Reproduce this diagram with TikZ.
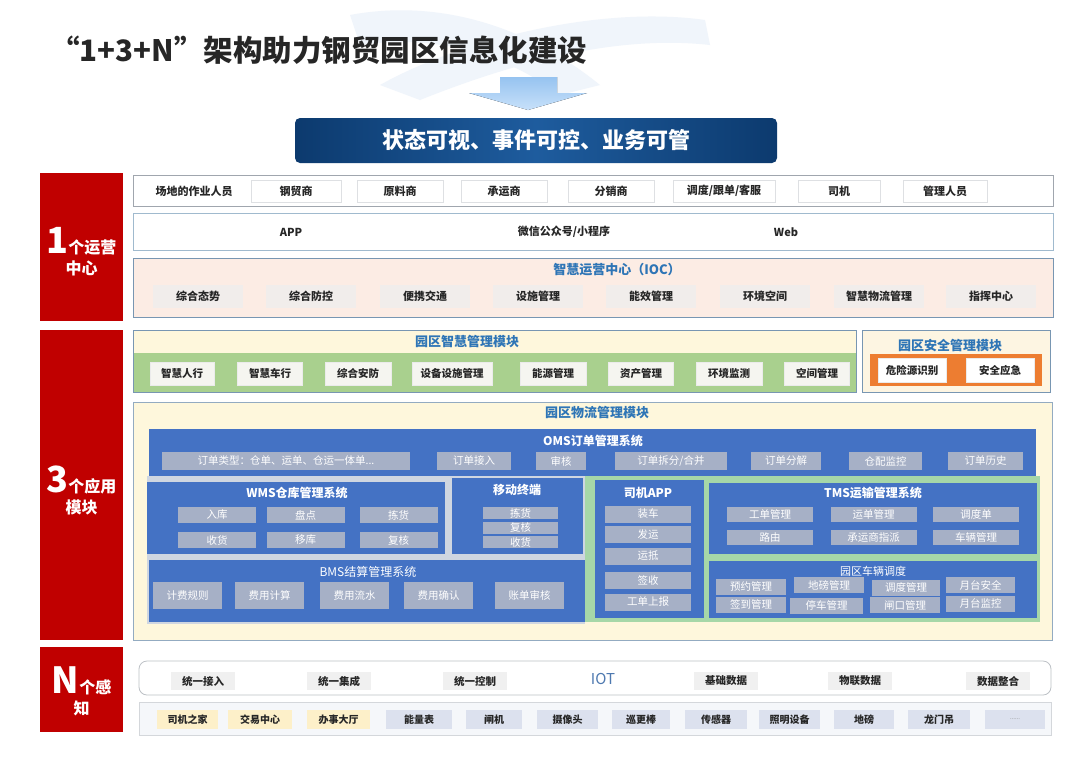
\documentclass[tikz,border=0pt]{standalone}
\usepackage{fontspec}
\setmainfont{Noto Sans CJK SC}
\usepackage{xcolor}
\definecolor{RedC}{RGB}{192,0,0}
\definecolor{TextK}{RGB}{38,38,38}
\definecolor{TitleB}{RGB}{46,117,182}
\definecolor{BanD}{RGB}{12,58,110}
\definecolor{BanM}{RGB}{30,92,158}
\definecolor{ArrA}{RGB}{150,195,240}
\definecolor{ArrB}{RGB}{200,225,250}
\definecolor{BgB}{RGB}{240,245,251}
\definecolor{LineG}{RGB}{160,166,174}
\definecolor{LineB}{RGB}{160,186,206}
\definecolor{LineS}{RGB}{120,150,178}
\definecolor{PeachP}{RGB}{252,236,228}
\definecolor{PeachG}{RGB}{241,237,235}
\definecolor{PaleY}{RGB}{254,247,220}
\definecolor{PaleY2}{RGB}{253,245,226}
\definecolor{SmartG}{RGB}{169,208,142}
\definecolor{OffW}{RGB}{245,245,240}
\definecolor{OrgC}{RGB}{237,125,49}
\definecolor{BlueM}{RGB}{68,114,196}
\definecolor{ItemG}{RGB}{166,176,198}
\definecolor{GrayP}{RGB}{207,214,225}
\definecolor{GreenP}{RGB}{166,215,168}
\definecolor{IotG}{RGB}{240,240,240}
\definecolor{IotB}{RGB}{78,121,176}
\definecolor{DevP}{RGB}{245,247,250}
\definecolor{DevY}{RGB}{253,240,201}
\definecolor{DevL}{RGB}{220,225,238}
\newcommand\fsz[1]{\fontsize{#1}{#1}\selectfont}

\begin{document}
\begin{tikzpicture}[x=1pt, y=-1pt,
  redcol/.style={fill=RedC, minimum width=83, inner sep=0},
  redtxt/.style={text=white, align=center, inner sep=0,
                 font=\fontsize{16}{21}\selectfont\bfseries},
  rowbox/.style={draw=#1, fill=white, line width=0.8pt, inner sep=0,
                 minimum width=920},
  dlbl/.style={text=TextK, inner sep=0, font=\fsz{11}\bfseries},
  pbox/.style={draw=LineG!35, fill=white, minimum height=22, inner sep=0,
               text=TextK, font=\fsz{11}\bfseries},
  ttl/.style={text=TitleB, inner sep=0, font=\fsz{13}\bfseries},
  ioci/.style={fill=PeachG, minimum width=90, minimum height=23, inner sep=0,
               text=TextK, font=\fsz{11}\bfseries},
  modbox/.style={draw=LineS, line width=0.8pt, inner sep=0},
  sitem/.style={fill=OffW, draw=black!8, minimum height=23, inner sep=0,
                text=TextK, font=\fsz{10.5}\bfseries},
  bluebox/.style={fill=BlueM, inner sep=0},
  wttl/.style={text=white, inner sep=0, font=\fsz{12}\bfseries},
  gitem/.style={fill=ItemG, inner sep=0, text=white, font=\fsz{10.5}},
  iotitem/.style={fill=IotG, minimum width=64, minimum height=18, inner sep=0,
                  text=TextK, font=\fsz{10.5}\bfseries},
  devitem/.style={fill=#1, minimum height=19, inner sep=0,
                  text=TextK, font=\fsz{10}\bfseries}
]
\useasboundingbox (0,0) rectangle (1080,764);
\fill[white] (0,0) rectangle (1080,764);

% faint backdrop behind the title
\fill[BgB] (350,15) .. controls (430,0) and (520,20) .. (600,85)
  -- (560,95) .. controls (500,50) and (430,35) .. (360,45) -- cycle;
\fill[BgB] (380,85) .. controls (460,40) and (600,5) .. (705,20)
  -- (710,45) .. controls (620,35) and (520,60) .. (420,100) -- cycle;

% title, arrow and goal banner
\node[anchor=west, inner sep=0, text=TextK, font=\fsz{29.5}\bfseries] (title)
  at (50,50) {“1+3+N”架构助力钢贸园区信息化建设};
\fill[top color=ArrA, bottom color=ArrB]
  (500,77) -- (557,77) -- (557,93) -- (587,93) -- (528,110) -- (469,93)
  -- (500,93) -- cycle;
\node[rounded corners=5, minimum width=482, minimum height=45, inner sep=0,
      left color=BanD, right color=BanD, middle color=BanM,
      text=white, font=\fsz{22}\bfseries] (goal) at (536,140.5)
  {状态可视、事件可控、业务可管};

% left red column
\node[redcol, minimum height=148] (c1) at (81.5,247) {};
\node[redcol, minimum height=310] (c3) at (81.5,485) {};
\node[redcol, minimum height=85] (cN) at (81.5,689.5) {};
\node[redtxt] (c1t) at (81.5,252) {{\fsz{36}1}个运营\\中心};
\node[redtxt] (c3t) at (81.5,490) {{\fsz{36}3}个应用\\模块};
\node[redtxt] (cNt) at (81.5,691) {{\fsz{36}N}个感\\知};

% 1: users
\node[rowbox=LineG, minimum height=31] (ppl) at (593,190.5) {};
\node[dlbl] (ppl0) at (194,191) {场地的作业人员};
\foreach \x/\w/\lbl [count=\k] in {296/90/钢贸商, 400/86/原料商,
    504/86/承运商, 611/86/分销商, 724/102/{调度/跟单/客服}, 839/82/司机,
    945/84/管理人员}{
  \node[pbox, minimum width=\w] (ppl\k) at (\x,191) {\lbl};
}

% 1: channels
\node[rowbox=LineB, minimum height=37] (chn) at (593,232) {};
\foreach \x/\lbl [count=\k] in {291/APP, 564/{微信公众号/小程序}, 786/Web}{
  \node[dlbl] (chn\k) at (\x,232) {\lbl};
}

% 1: IOC
\node[rowbox=LineS, fill=PeachP, minimum height=59] (ioc) at (593,287.5) {};
\node[ttl] (iocT) at (617,270) {智慧运营中心（IOC）};
\foreach \x/\lbl [count=\k] in {198/综合态势, 311/综合防控, 425/便携交通,
    538/设施管理, 651/能效管理, 765/环境空间, 879/智慧物流管理, 991/指挥中心}{
  \node[ioci] (ioc\k) at (\x,296.5) {\lbl};
}

% 3: smart park module
\node[modbox, fill=PaleY, minimum width=723, minimum height=62,
      path picture={\fill[SmartG] ([yshift=-23pt]path picture bounding box.north west)
        rectangle (path picture bounding box.south east);}] (smart) at (494.5,361) {};
\node[ttl] (smartT) at (467,342) {园区智慧管理模块};
\foreach \x/\w/\lbl [count=\k] in {182/64/智慧人行, 270/65/智慧车行,
    358/66/综合安防, 452/80/设备设施管理, 553/66/能源管理, 641/65/资产管理,
    729/66/环境监测, 817/65/空间管理}{
  \node[sitem, minimum width=\w] (smart\k) at (\x,373.5) {\lbl};
}

% 3: safety module
\node[modbox, fill=PaleY2, minimum width=188, minimum height=62] (safe) at (956,361) {};
\node[ttl] (safeT) at (950,346) {园区安全管理模块};
\node[fill=OrgC, minimum width=172, minimum height=32, inner sep=0] (orng) at (956,370) {};
\node[sitem, fill=white, minimum width=68, minimum height=24] (safe1) at (912,370) {危险源识别};
\node[sitem, fill=white, minimum width=68, minimum height=24] (safe2) at (1000,370) {安全应急};

% 3: logistics module
\node[modbox, draw=LineS!80, fill=PaleY, minimum width=919, minimum height=238] (logi) at (592.5,521) {};
\node[ttl] (logiT) at (597,413) {园区物流管理模块};

% OMS
\node[bluebox, minimum width=887, minimum height=47] (oms) at (592.5,452.5) {};
\node[wttl] (omsT) at (593,441) {OMS订单管理系统};
\node[gitem, minimum width=248, minimum height=18] (oms1) at (286,461) {订单类型：仓单、运单、仓运一体单...};
\foreach \x/\w/\lbl [count=\k from 2] in {474/74/订单接入, 561/50/审核,
    671/112/{订单拆分/合并}, 786/70/订单分解, 885.5/73/仓配监控, 985.5/75/订单历史}{
  \node[gitem, minimum width=\w, minimum height=18] (oms\k) at (\x,461) {\lbl};
}

% panels under OMS
\node[fill=GrayP, minimum width=438, minimum height=148, inner sep=0] (lpan) at (366,550) {};
\node[fill=GreenP, minimum width=455, minimum height=146, inner sep=0] (rpan) at (812.5,549) {};

% WMS
\node[bluebox, minimum width=298, minimum height=72] (wms) at (296,518) {};
\node[wttl] (wmsT) at (297,493) {WMS仓库管理系统};
\foreach \x/\y/\lbl [count=\k] in {217/515/入库, 305.5/515/盘点, 398.5/515/拣货,
    217/540/收货, 305.5/540/移库, 398.5/540/复核}{
  \node[gitem, minimum width=78, minimum height=16] (wms\k) at (\x,\y) {\lbl};
}

% mobile terminal
\node[bluebox, minimum width=131, minimum height=76] (mob) at (517.5,516) {};
\node[wttl] (mobT) at (517,490) {移动终端};
\foreach \y/\lbl [count=\k] in {513/拣货, 527.5/复核, 542/收货}{
  \node[gitem, minimum width=75, minimum height=12] (mob\k) at (520.5,\y) {\lbl};
}

% BMS
\node[bluebox, minimum width=436, minimum height=62] (bms) at (367,591) {};
\node[wttl, font=\fsz{12}] (bmsT) at (368,572) {BMS结算管理系统};
\foreach \x/\lbl [count=\k] in {187.5/计费规则, 269.5/费用计算, 354.5/费用流水,
    438.5/费用确认, 529.5/账单审核}{
  \node[gitem, minimum width=69, minimum height=27] (bms\k) at (\x,595.5) {\lbl};
}

% driver APP
\node[bluebox, minimum width=109, minimum height=138] (drv) at (649.5,549) {};
\node[wttl] (drvT) at (648,493) {司机APP};
\foreach \y/\lbl [count=\k] in {514/装车, 534.5/发运, 556/运抵, 580/签收, 602/工单上报}{
  \node[gitem, minimum width=86, minimum height=17] (drv\k) at (648,\y) {\lbl};
}

% TMS
\node[bluebox, minimum width=328, minimum height=71] (tms) at (873,518.5) {};
\node[wttl] (tmsT) at (873,493) {TMS运输管理系统};
\foreach \x/\y/\lbl [count=\k] in {770/514.5/工单管理, 873.5/514.5/运单管理,
    976/514.5/调度单, 770/537.5/路由, 873.5/537.5/承运商指派, 976/537.5/车辆管理}{
  \node[gitem, minimum width=86, minimum height=15] (tms\k) at (\x,\y) {\lbl};
}

% vehicle scheduling
\node[bluebox, minimum width=328, minimum height=57] (veh) at (873,589.5) {};
\node[wttl, font=\fsz{11}] (vehT) at (873,571) {园区车辆调度};
\foreach \x/\y/\w/\lbl [count=\k] in {751/586.5/70/预约管理, 751/604.5/70/签到管理,
    829/585/70/地磅管理, 826.5/605.5/73/停车管理, 906/587.5/68/调度管理,
    905/605/70/闸口管理, 980.5/585/69/月台安全, 980.5/603.5/69/月台监控}{
  \node[gitem, minimum width=\w, minimum height=16] (veh\k) at (\x,\y) {\lbl};
}

% N: IOT layer
\node[draw=LineG!70, fill=white, rounded corners=8, line width=0.8pt,
      minimum width=912, minimum height=34, inner sep=0] (iot) at (595,678) {};
\foreach \x/\lbl [count=\k] in {203/统一接入, 339/统一集成, 475/统一控制,
    726/基础数据, 860/物联数据, 998/数据整合}{
  \node[iotitem] (iot\k) at (\x,681) {\lbl};
}
\node[text=IotB, inner sep=0, font=\fsz{15}] (iotT) at (603,679) {IOT};

% N: devices
\node[draw=LineG!45, fill=DevP, line width=0.8pt, minimum width=912,
      minimum height=33, inner sep=0] (dev) at (595,718.5) {};
\foreach \x/\w/\c/\lbl [count=\k] in {187.5/61/DevY/司机之家, 260/64/DevY/交易中心,
    338.5/63/DevY/办事大厅, 419/66/DevL/能量表, 494/56/DevL/闸机,
    567.5/61/DevL/摄像头, 641/58/DevL/巡更棒, 716/62/DevL/传感器,
    789.5/61/DevL/照明设备, 864/60/DevL/地磅, 939/62/DevL/龙门吊}{
  \node[devitem=\c, minimum width=\w] (dev\k) at (\x,719.5) {\lbl};
}
\node[devitem=DevL, minimum width=60, text=gray, font=\fsz{6}] (dev12) at (1015,719.5) {......};
\end{tikzpicture}
\end{document}
